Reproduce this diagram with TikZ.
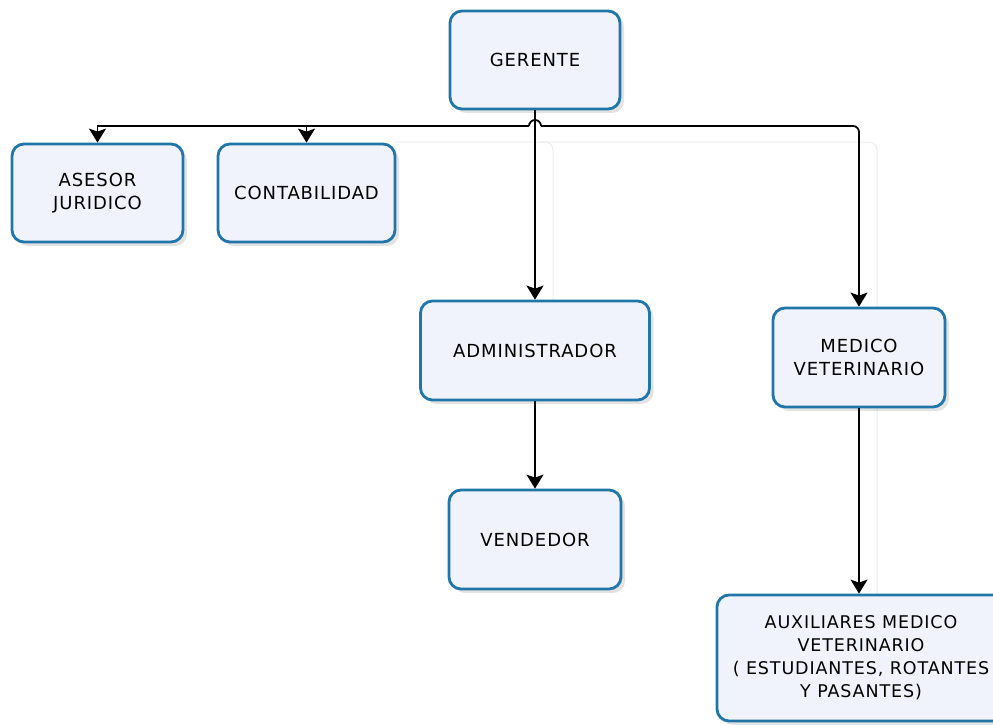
\documentclass[tikz,border=0pt]{standalone}
\usepackage{fontspec}
\setmainfont[LetterSpace=5]{DejaVu Sans}
\usetikzlibrary{arrows.meta,shadows,calc}
\definecolor{boxblue}{RGB}{32,118,168}
\definecolor{boxfill}{RGB}{241,243,252}
\definecolor{ghost}{RGB}{236,236,238}
\begin{document}
\begin{tikzpicture}[x=1pt,y=-1pt,
  orgbox/.style={draw=boxblue, line width=2.8pt, fill=boxfill, rounded corners=12pt,
    align=center, inner sep=2pt, font=\fontsize{18}{23.5}\selectfont,
    drop shadow={opacity=0.22, shadow xshift=4pt, shadow yshift=-4pt}},
  arr/.style={line width=1.8pt, -{Stealth[length=14pt,width=17pt,inset=3pt]}},
  plain/.style={line width=1.8pt},
  faint/.style={draw=ghost, line width=1pt}]
\useasboundingbox (0,0) rectangle (993,725);
% faint ghost lines
\draw[faint, rounded corners=8pt] (395,142) -- (877,142) -- (877,600);
\draw[faint, rounded corners=8pt] (540,142) -- (553,142) -- (553,300);
% boxes
\node[orgbox, minimum width=170pt, minimum height=98pt] (G) at (535,60) {GERENTE};
\node[orgbox, minimum width=171pt, minimum height=98pt] (AJ) at (97.5,193) {ASESOR\\JURIDICO};
\node[orgbox, minimum width=177pt, minimum height=98pt] (C) at (306.5,193) {CONTABILIDAD};
\node[orgbox, minimum width=229pt, minimum height=99pt] (A) at (535,350.5) {ADMINISTRADOR};
\node[orgbox, minimum width=172pt, minimum height=99pt] (M) at (859,357.5) {MEDICO\\VETERINARIO};
\node[orgbox, minimum width=172pt, minimum height=99pt] (V) at (535,539.5) {VENDEDOR};
\node[orgbox, minimum width=288pt, minimum height=126pt, font=\fontsize{17.5}{23}\selectfont] (X) at (861,658) {AUXILIARES MEDICO\\VETERINARIO\\( ESTUDIANTES, ROTANTES\\Y PASANTES)};
% bus coordinates
\coordinate (hopL) at (529,126);
\coordinate (hopR) at (541,126);
% connectors
\draw[arr] (G.south) -- (A.north);
\draw[plain] (hopL) arc[start angle=180, end angle=360, radius=6];
\draw[arr] (hopL) -| (AJ.north);
\draw[arr] (hopL -| C.north) -- (C.north);
\draw[arr, rounded corners=6pt] (hopR) -| (M.north);
\draw[arr] (A.south) -- (V.north);
\draw[arr] (M.south) -- (M.south |- X.north);
\end{tikzpicture}
\end{document}
